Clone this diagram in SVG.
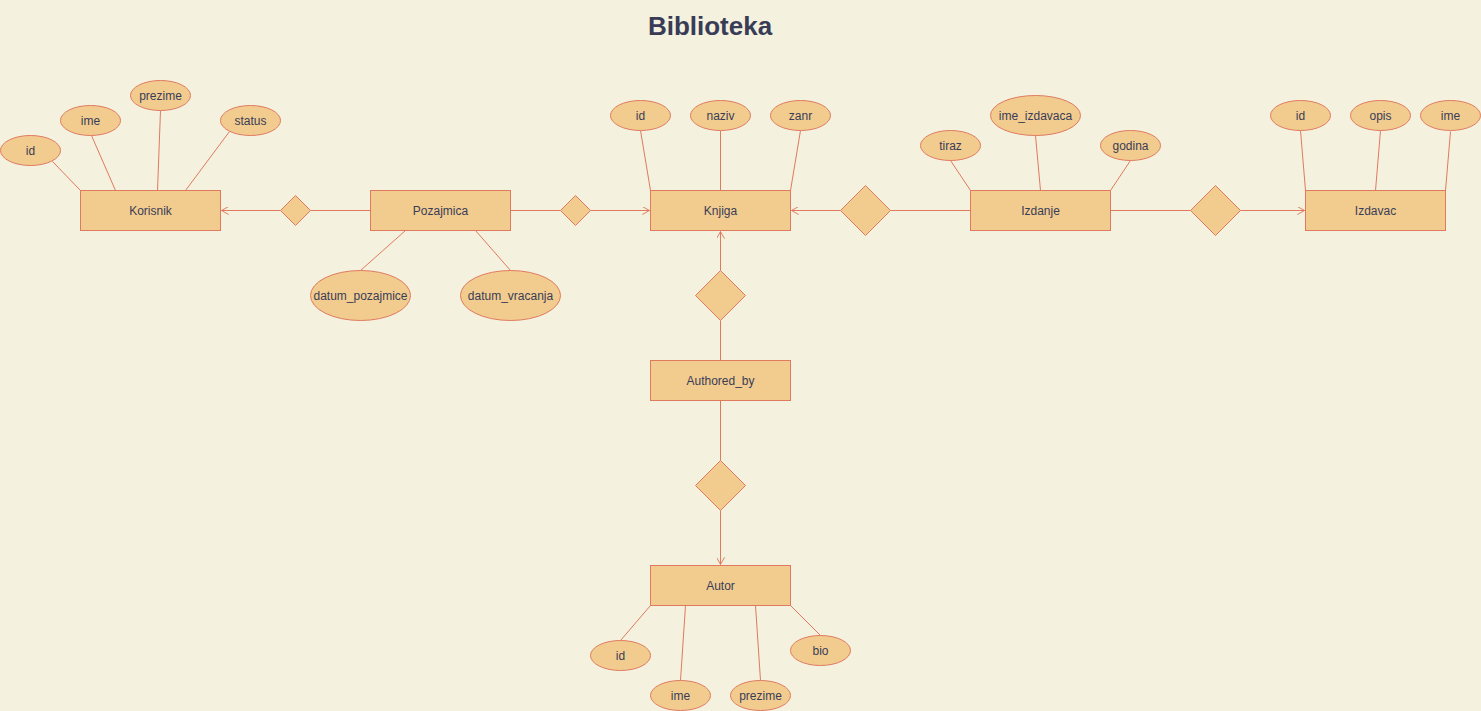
<svg xmlns="http://www.w3.org/2000/svg" width="1481" height="711" viewBox="0 0 1481 711">
<defs>
<marker id="arr" viewBox="0 0 10 10" refX="9" refY="5" markerWidth="8" markerHeight="8" markerUnits="userSpaceOnUse" orient="auto">
<path d="M0,0 L9,5 L0,10" fill="none" stroke="#E07A5F" stroke-width="1.2"/>
</marker>
<style>
.n{fill:#F2CC8F;stroke:#E07A5F;stroke-width:1}
.t{font-family:"Liberation Sans",Arial,sans-serif;font-size:12px;fill:#393C56;text-anchor:middle;dominant-baseline:central}
.c line{stroke:#E07A5F;stroke-width:1;fill:none}
.title{font-family:"Liberation Sans",Arial,sans-serif;font-size:26px;font-weight:bold;fill:#393C56;text-anchor:middle}
</style>
</defs>
<rect width="1481" height="711" fill="#F4F1DE"/>
<text class="title" x="710" y="35">Biblioteka</text>
<g transform="translate(0.5,0.5)">
<g id="connectors" class="c">
<line x1="52" y1="161" x2="80" y2="190"/>
<line x1="91" y1="135" x2="115" y2="190"/>
<line x1="160" y1="110" x2="157" y2="190"/>
<line x1="229" y1="131" x2="185" y2="190"/>
<line x1="405" y1="230" x2="360" y2="270"/>
<line x1="475" y1="230" x2="510" y2="270"/>
<line x1="640" y1="130" x2="650" y2="190"/>
<line x1="720" y1="130" x2="720" y2="190"/>
<line x1="800" y1="130" x2="790" y2="190"/>
<line x1="950" y1="160" x2="970" y2="190"/>
<line x1="1035" y1="135" x2="1040" y2="190"/>
<line x1="1130" y1="160" x2="1110" y2="190"/>
<line x1="1300" y1="130" x2="1305" y2="190"/>
<line x1="1380" y1="130" x2="1375" y2="190"/>
<line x1="1450" y1="131" x2="1445" y2="190"/>
<line x1="650" y1="605" x2="620" y2="640"/>
<line x1="685" y1="605" x2="680" y2="680"/>
<line x1="755" y1="605" x2="760" y2="680"/>
<line x1="790" y1="605" x2="820" y2="635"/>
<line x1="280" y1="210" x2="221" y2="210" marker-end="url(#arr)"/>
<line x1="310" y1="210" x2="370" y2="210"/>
<line x1="510" y1="210" x2="560" y2="210"/>
<line x1="590" y1="210" x2="649" y2="210" marker-end="url(#arr)"/>
<line x1="840" y1="210" x2="791" y2="210" marker-end="url(#arr)"/>
<line x1="890" y1="210" x2="970" y2="210"/>
<line x1="1110" y1="210" x2="1190" y2="210"/>
<line x1="1240" y1="210" x2="1304" y2="210" marker-end="url(#arr)"/>
<line x1="720" y1="270" x2="720" y2="231" marker-end="url(#arr)"/>
<line x1="720" y1="320" x2="720" y2="360"/>
<line x1="720" y1="400" x2="720" y2="460"/>
<line x1="720" y1="510" x2="720" y2="564" marker-end="url(#arr)"/>
</g>
<g id="Korisnik"><rect class="n" x="80" y="190" width="140" height="40"/><text class="t" x="150" y="210">Korisnik</text></g>
<g id="Pozajmica"><rect class="n" x="370" y="190" width="140" height="40"/><text class="t" x="440" y="210">Pozajmica</text></g>
<g id="Knjiga"><rect class="n" x="650" y="190" width="140" height="40"/><text class="t" x="720" y="210">Knjiga</text></g>
<g id="Izdanje"><rect class="n" x="970" y="190" width="140" height="40"/><text class="t" x="1040" y="210">Izdanje</text></g>
<g id="Izdavac"><rect class="n" x="1305" y="190" width="140" height="40"/><text class="t" x="1375" y="210">Izdavac</text></g>
<g id="Authored_by"><rect class="n" x="650" y="360" width="140" height="40"/><text class="t" x="720" y="380">Authored_by</text></g>
<g id="Autor"><rect class="n" x="650" y="565" width="140" height="40"/><text class="t" x="720" y="585">Autor</text></g>
<g id="rel1"><polygon class="n" points="295,195 310,210 295,225 280,210"/></g>
<g id="rel2"><polygon class="n" points="575,195 590,210 575,225 560,210"/></g>
<g id="rel3"><polygon class="n" points="865,185 890,210 865,235 840,210"/></g>
<g id="rel4"><polygon class="n" points="1215,185 1240,210 1215,235 1190,210"/></g>
<g id="rel5"><polygon class="n" points="720,270 745,295 720,320 695,295"/></g>
<g id="rel6"><polygon class="n" points="720,460 745,485 720,510 695,485"/></g>
<g id="k_id"><ellipse class="n" cx="30" cy="150" rx="30" ry="15"/><text class="t" x="30" y="150">id</text></g>
<g id="k_ime"><ellipse class="n" cx="90" cy="120" rx="30" ry="15"/><text class="t" x="90" y="120">ime</text></g>
<g id="k_prezime"><ellipse class="n" cx="160" cy="95" rx="30" ry="15"/><text class="t" x="160" y="95">prezime</text></g>
<g id="k_status"><ellipse class="n" cx="250" cy="120" rx="30" ry="15"/><text class="t" x="250" y="120">status</text></g>
<g id="p_datum_pozajmice"><ellipse class="n" cx="360" cy="295" rx="50" ry="25"/><text class="t" x="360" y="295">datum_pozajmice</text></g>
<g id="p_datum_vracanja"><ellipse class="n" cx="510" cy="295" rx="50" ry="25"/><text class="t" x="510" y="295">datum_vracanja</text></g>
<g id="kn_id"><ellipse class="n" cx="640" cy="115" rx="30" ry="15"/><text class="t" x="640" y="115">id</text></g>
<g id="kn_naziv"><ellipse class="n" cx="720" cy="115" rx="30" ry="15"/><text class="t" x="720" y="115">naziv</text></g>
<g id="kn_zanr"><ellipse class="n" cx="800" cy="115" rx="30" ry="15"/><text class="t" x="800" y="115">zanr</text></g>
<g id="i_tiraz"><ellipse class="n" cx="950" cy="145" rx="30" ry="15"/><text class="t" x="950" y="145">tiraz</text></g>
<g id="i_ime_izdavaca"><ellipse class="n" cx="1035" cy="115" rx="45" ry="20"/><text class="t" x="1035" y="115">ime_izdavaca</text></g>
<g id="i_godina"><ellipse class="n" cx="1130" cy="145" rx="30" ry="15"/><text class="t" x="1130" y="145">godina</text></g>
<g id="iz_id"><ellipse class="n" cx="1300" cy="115" rx="30" ry="15"/><text class="t" x="1300" y="115">id</text></g>
<g id="iz_opis"><ellipse class="n" cx="1380" cy="115" rx="30" ry="15"/><text class="t" x="1380" y="115">opis</text></g>
<g id="iz_ime"><ellipse class="n" cx="1450" cy="115" rx="30" ry="15"/><text class="t" x="1450" y="115">ime</text></g>
<g id="a_id"><ellipse class="n" cx="620" cy="655" rx="30" ry="15"/><text class="t" x="620" y="655">id</text></g>
<g id="a_ime"><ellipse class="n" cx="680" cy="695" rx="30" ry="15"/><text class="t" x="680" y="695">ime</text></g>
<g id="a_prezime"><ellipse class="n" cx="760" cy="695" rx="30" ry="15"/><text class="t" x="760" y="695">prezime</text></g>
<g id="a_bio"><ellipse class="n" cx="820" cy="650" rx="30" ry="15"/><text class="t" x="820" y="650">bio</text></g>
</g>
</svg>
